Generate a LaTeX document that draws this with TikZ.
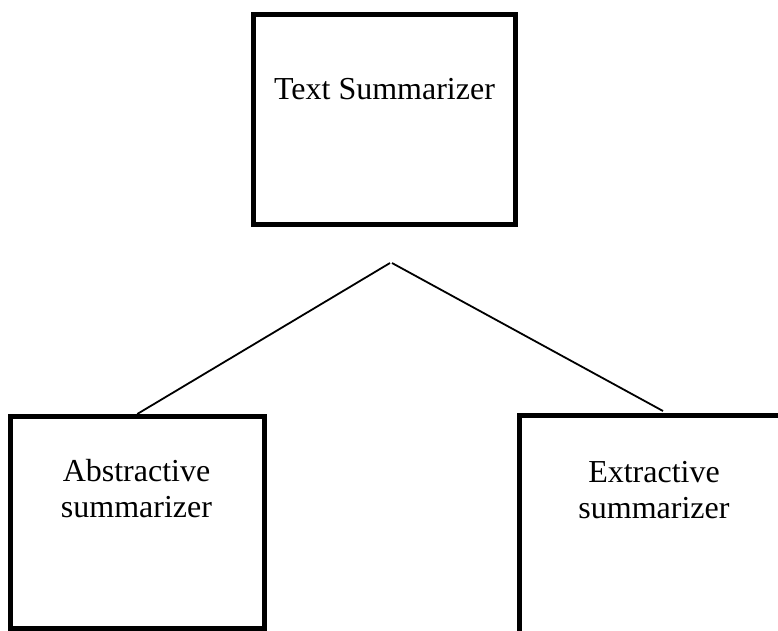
\documentclass[tikz,border=0pt]{standalone}
\usepackage{fontspec}
\setmainfont{Liberation Serif}
\begin{document}
\begin{tikzpicture}[x=1pt,y=-1pt,
  box/.style={draw=black, line width=5pt, inner sep=0pt},
  lbl/.style={font=\fontsize{32}{36}\selectfont, align=center, inner sep=0pt},
  link/.style={draw=black, line width=1.8pt}]
  \useasboundingbox (0,0) rectangle (778,630);
  \clip (0,0) rectangle (778,630);

  % boxes
  \node[box, minimum width=262pt, minimum height=210pt] (ts) at (384.5,119.5) {};
  \node[box, minimum width=254.5pt, minimum height=211.5pt] (ab) at (137.25,522.25) {};
  \node[box, minimum width=269pt, minimum height=230pt] (ex) at (654,530.5) {};

  % labels
  \node[lbl, anchor=base] (tsl) at (384.5,99) {Text Summarizer};
  \node[lbl] (abl) at (136.5,489) {Abstractive\\summarizer};
  \node[lbl] (exl) at (654,490) {Extractive\\summarizer};

  % connectors
  \coordinate (apexL) at (390,263);
  \coordinate (apexR) at (392,263);
  \coordinate (exTop) at (663,411);
  \draw[link] (apexL) -- (ab.north);
  \draw[link] (apexR) -- (exTop);
\end{tikzpicture}
\end{document}
